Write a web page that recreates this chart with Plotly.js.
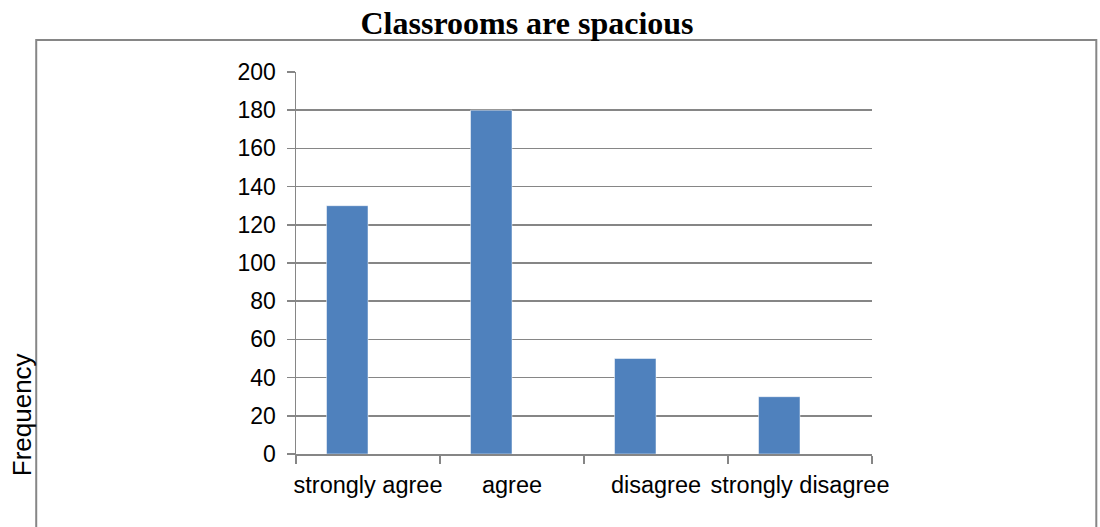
<!DOCTYPE html>
<html>
<head>
<meta charset="utf-8">
<script src="https://cdn.plot.ly/plotly-3.0.1.min.js"></script>
<style>html,body{margin:0;padding:0;background:#fff;}#chart{width:1100px;height:527px;}</style>
</head>
<body>
<div id="chart"></div>
<script>
const categories = ["strongly agree", "agree", "disagree", "strongly disagree"];
const frequency = [130, 180, 50, 30];
const yTicks = [0, 20, 40, 60, 80, 100, 120, 140, 160, 180, 200];

const axisGray = "#868686";

const trace = {
  type: "bar",
  x: categories,
  y: frequency,
  offset: -0.288,
  width: 0.288,
  marker: {color: "#4f81bd", line: {color: "#ffffff", width: 0.5}},
  hoverinfo: "x+y"
};

const layout = {
  width: 1100,
  height: 527,
  margin: {l: 296, r: 227.5, t: 72, b: 73},
  paper_bgcolor: "#ffffff",
  plot_bgcolor: "#ffffff",
  showlegend: false,
  bargap: 0,
  title: {
    text: "<b>Classrooms are spacious</b>",
    font: {family: "Liberation Serif, Times New Roman, serif", size: 32, color: "#000"},
    x: 527 / 1100, xref: "container", xanchor: "center",
    y: 1 - 23 / 527, yref: "container", yanchor: "middle"
  },
  xaxis: {
    type: "category",
    tickson: "boundaries",
    ticks: "outside",
    ticklen: 8,
    tickwidth: 1.5,
    tickcolor: axisGray,
    showline: true,
    linecolor: axisGray,
    linewidth: 1.5,
    showgrid: false,
    tickangle: 0,
    tickfont: {family: "Liberation Sans, Arial, sans-serif", size: 23.5, color: "#000"},
    ticklabelstandoff: 9
  },
  yaxis: {
    range: [0, 200],
    tickvals: yTicks,
    ticktext: yTicks.map(String),
    ticks: "outside",
    ticklen: 8,
    tickwidth: 1.5,
    tickcolor: axisGray,
    showline: true,
    linecolor: axisGray,
    linewidth: 1.5,
    showgrid: true,
    gridcolor: axisGray,
    gridwidth: 1.5,
    zeroline: false,
    tickfont: {family: "Liberation Sans, Arial, sans-serif", size: 23, color: "#000"},
    ticklabelstandoff: 6
  },
  shapes: [{
    type: "rect", xref: "paper", yref: "paper",
    x0: (36 - 296) / 576.5, x1: (1097 - 296) / 576.5,
    y0: (454 - 540) / 382, y1: (454 - 40) / 382,
    line: {color: axisGray, width: 2}, fillcolor: "rgba(0,0,0,0)", layer: "below"
  }],
  annotations: [{
    text: "Frequency",
    xref: "paper", yref: "paper",
    x: (22 - 296) / 576.5, y: (454 - 415) / 382,
    xanchor: "center", yanchor: "middle",
    textangle: -90, showarrow: false,
    font: {family: "Liberation Sans, Arial, sans-serif", size: 26, color: "#000"}
  }]
};

Plotly.newPlot("chart", [trace], layout, {displayModeBar: false, staticPlot: true});
</script>
</body>
</html>
